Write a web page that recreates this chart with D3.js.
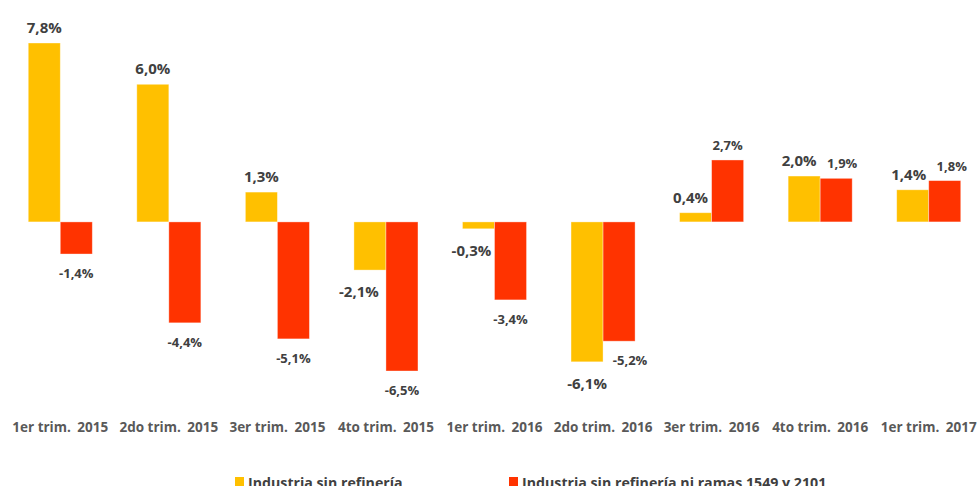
<!DOCTYPE html>
<html><head><meta charset="utf-8">
<script src="https://cdn.jsdelivr.net/npm/d3@7"></script>
<style>
html,body{margin:0;padding:0;background:#fff;overflow:hidden}
svg{display:block;font-family:"Open Sans","Noto Sans",sans-serif}
</style></head>
<body><svg id="c" width="978" height="486"></svg>
<script>
const categories = ["1er trim. 2015","2do trim. 2015","3er trim. 2015","4to trim. 2015","1er trim. 2016","2do trim. 2016","3er trim. 2016","4to trim. 2016","1er trim. 2017"];
const seriesNames = ["Industria sin refinería","Industria sin refinería ni ramas 1549 y 2101"];
const industriaSinRefineria = [7.8, 6.0, 1.3, -2.1, -0.3, -6.1, 0.4, 2.0, 1.4];
const industriaSinRamas = [-1.4, -4.4, -5.1, -6.5, -3.4, -5.2, 2.7, 1.9, 1.8];

// layout-only label nudges (px)
const nudgeA = [0,0,0,-11,-7,0,-5,-5,-4];
const nudgeB = [0,0,0,0,0,11,0,6,7];

const colors = ["#FFC000","#FF3300"];
const svg = d3.select("#c");
const x = d3.scaleBand().domain(categories).range([6, 983]).paddingInner(0.41).paddingOuter(0.205);
const y = d3.scaleLinear().domain([-6.5, 7.8]).range([371, 43]);
const xs = d3.scaleBand().domain([0,1]).range([0, x.bandwidth()]);

const series = [industriaSinRefineria, industriaSinRamas];
const nudges = [nudgeA, nudgeB];
const fontSizes = [15, 13];

series.forEach((vals, si) => {
  const g = svg.append("g");
  g.selectAll("rect").data(vals).join("rect")
    .attr("x", (d,i) => x(categories[i]) + xs(si))
    .attr("width", xs.bandwidth())
    .attr("y", d => y(Math.max(0,d)))
    .attr("height", d => Math.abs(y(d) - y(0)))
    .attr("fill", colors[si])
    .attr("stroke", "rgba(255,255,255,0.45)")
    .attr("stroke-width", 0.8);
  g.selectAll("text").data(vals).join("text")
    .attr("x", (d,i) => x(categories[i]) + xs(si) + xs.bandwidth()/2 + nudges[si][i])
    .attr("y", d => d >= 0 ? y(d) - 10 : y(d) + (si === 0 ? 27 : 24))
    .attr("text-anchor", "middle")
    .attr("font-size", fontSizes[si])
    .attr("font-weight", "bold")
    .attr("fill", "#404040")
    .text(d => d.toFixed(1).replace(".", ",") + "%");
});

const ax = svg.append("g");
ax.selectAll("text").data(categories).join("text")
  .attr("x", d => x(d) + x.bandwidth()/2)
  .attr("y", 432)
  .attr("text-anchor", "middle")
  .attr("font-size", 13.5)
  .attr("font-weight", "bold")
  .attr("fill", "#595959")
  .each(function(d) {
    const k = d.lastIndexOf(" ");
    const t = d3.select(this);
    t.append("tspan").text(d.slice(0, k + 1));
    t.append("tspan").attr("dx", 3).text(d.slice(k + 1));
  });

const legendX = [235, 509];
const lg = svg.append("g");
seriesNames.forEach((n, i) => {
  lg.append("rect").attr("x", legendX[i]).attr("y", 477).attr("width", 9).attr("height", 9).attr("fill", colors[i]);
  lg.append("text").attr("x", legendX[i] + 13).attr("y", 488)
    .attr("font-size", 14.2).attr("font-weight", "bold").attr("fill", "#404040").text(n);
});
</script></body></html>
